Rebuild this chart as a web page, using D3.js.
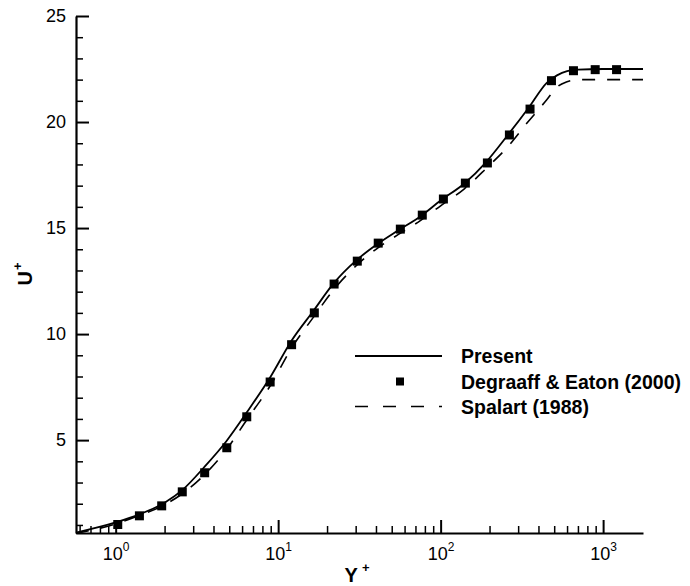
<!DOCTYPE html>
<html>
<head>
<meta charset="utf-8">
<script src="https://cdn.jsdelivr.net/npm/d3@7"></script>
<style>
  body { margin: 0; background: #fff; }
  svg { font-family: "Liberation Sans", Arial, Helvetica, sans-serif; }
</style>
</head>
<body>
<div id="chart"></div>
<script>
// ---- data ----
const presentX  = [0.57, 1.0, 1.4, 2.0, 2.6, 3.5, 4.8, 6.4, 9.0, 12, 16.5, 22, 30, 40, 55, 75, 100, 140, 190, 260, 350, 450, 520, 600, 700, 1000, 1760];
const presentY  = [0.64, 1.12, 1.5, 2.05, 2.68, 3.72, 4.95, 6.3, 8.0, 9.65, 11.1, 12.4, 13.45, 14.2, 14.9, 15.55, 16.3, 17.1, 18.1, 19.4, 20.7, 21.85, 22.2, 22.4, 22.47, 22.5, 22.5];

const degraaffX = [1.03, 1.40, 1.92, 2.57, 3.53, 4.83, 6.41, 8.93, 12.1, 16.7, 22.1, 30.7, 41.3, 56.5, 77.1, 104, 142, 194, 265, 355, 481, 657, 894, 1210];
const degraaffY = [1.02, 1.43, 1.90, 2.56, 3.46, 4.64, 6.10, 7.74, 9.50, 11.0, 12.36, 13.44, 14.29, 14.95, 15.61, 16.37, 17.12, 18.07, 19.39, 20.61, 21.95, 22.42, 22.47, 22.47];

const spalartX  = [0.57, 1.0, 1.4, 2.0, 2.6, 3.5, 4.8, 6.4, 9.0, 12, 16.5, 22, 30, 40, 55, 75, 100, 140, 190, 260, 340, 450, 520, 600, 700, 1000, 1760];
const spalartY  = [0.6, 1.05, 1.45, 1.95, 2.5, 3.35, 4.55, 5.95, 7.6, 9.3, 10.8, 12.1, 13.2, 14.0, 14.7, 15.35, 16.05, 16.85, 17.8, 18.85, 19.95, 21.05, 21.65, 21.9, 22.0, 22.0, 22.0];

const xMajor = [1, 10, 100, 1000];
const xMinor = [0.6, 0.7, 0.8, 0.9, 2, 3, 4, 5, 6, 7, 8, 9, 20, 30, 40, 50, 60, 70, 80, 90, 200, 300, 400, 500, 600, 700, 800, 900];
const xExp   = ["0", "1", "2", "3"];
const yMajor = [5, 10, 15, 20, 25];
const yMinor = d3.range(1, 25).filter(v => v % 5 !== 0);

const legendItems = ["Present", "Degraaff & Eaton (2000)", "Spalart (1988)"];

// ---- layout ----
const width = 690, height = 586;
const svg = d3.select("#chart").append("svg").attr("width", width).attr("height", height);

const x = d3.scaleLog().domain([0.57, 1760]).range([76, 643]);
const y = d3.scaleLinear().domain([0.62, 25]).range([533, 16]);

const zip = (xs, ys) => xs.map((v, i) => ({ x: v, y: ys[i] }));
const line = d3.line().x(d => x(d.x)).y(d => y(d.y)).curve(d3.curveMonotoneX);

const plot = svg.append("g");
plot.append("path").datum(zip(spalartX, spalartY))
  .attr("fill", "none").attr("stroke", "#000").attr("stroke-width", 1.6)
  .attr("stroke-dasharray", "13,12").attr("d", line);
plot.append("path").datum(zip(presentX, presentY))
  .attr("fill", "none").attr("stroke", "#000").attr("stroke-width", 1.8).attr("d", line);
plot.selectAll("rect.pt").data(zip(degraaffX, degraaffY)).enter().append("rect")
  .attr("class", "pt")
  .attr("x", d => x(d.x) - 4.5).attr("y", d => y(d.y) - 4.5)
  .attr("width", 9).attr("height", 9).attr("fill", "#000");

// ---- axes ----
const xMinorAxis = svg.append("g").attr("transform", "translate(0,533)")
  .call(d3.axisBottom(x).tickValues(xMinor).tickSize(-7).tickFormat(""));
xMinorAxis.select(".domain").remove();
xMinorAxis.selectAll("line").attr("stroke-width", 1.5);

const xAxis = svg.append("g").attr("transform", "translate(0,533)")
  .call(d3.axisBottom(x).tickValues(xMajor).tickSizeInner(-13).tickSizeOuter(0).tickPadding(14).tickFormat(""));
xAxis.select(".domain").attr("stroke-width", 2.2);
xAxis.selectAll("line").attr("stroke-width", 2);
xAxis.selectAll("text")
  .attr("font-size", 18).attr("fill", "#000")
  .each(function (d, i) {
    const t = d3.select(this);
    t.append("tspan").text("10");
    t.append("tspan").attr("font-size", 12).attr("dy", "-0.75em").text(xExp[i]);
  });

const yMinorAxis = svg.append("g").attr("transform", "translate(76,0)")
  .call(d3.axisLeft(y).tickValues(yMinor).tickSize(-7).tickFormat(""));
yMinorAxis.select(".domain").remove();
yMinorAxis.selectAll("line").attr("stroke-width", 1.5);

const yAxis = svg.append("g").attr("transform", "translate(76,0)")
  .call(d3.axisLeft(y).tickValues(yMajor).tickSizeInner(-13).tickSizeOuter(0).tickPadding(10));
yAxis.select(".domain").attr("stroke-width", 2.2);
yAxis.selectAll("line").attr("stroke-width", 2);
yAxis.selectAll("text").attr("font-size", 18).attr("fill", "#000");

// axis titles
const xt = svg.append("text").attr("x", 357).attr("y", 582)
  .attr("text-anchor", "middle").attr("font-size", 20).attr("font-weight", "bold");
xt.append("tspan").text("Y");
xt.append("tspan").attr("font-size", 13).attr("dx", 4).attr("dy", "-0.75em").text("+");

const yt = svg.append("text").attr("transform", "translate(32,274) rotate(-90)")
  .attr("text-anchor", "middle").attr("font-size", 20).attr("font-weight", "bold");
yt.append("tspan").text("U");
yt.append("tspan").attr("font-size", 13).attr("dx", 1).attr("dy", "-0.75em").text("+");

// ---- legend ----
const legend = svg.append("g");
const rowY = [356, 381.5, 406.5];
legend.append("line").attr("x1", 355).attr("x2", 442).attr("y1", rowY[0]).attr("y2", rowY[0])
  .attr("stroke", "#000").attr("stroke-width", 1.8);
legend.append("rect").attr("x", 396).attr("y", rowY[1] - 4).attr("width", 8).attr("height", 8).attr("fill", "#000");
legend.append("line").attr("x1", 355).attr("x2", 442).attr("y1", rowY[2]).attr("y2", rowY[2])
  .attr("stroke", "#000").attr("stroke-width", 1.6).attr("stroke-dasharray", "13,15");
legend.selectAll("text.leg").data(legendItems).enter().append("text")
  .attr("class", "leg")
  .attr("x", 461).attr("y", (d, i) => rowY[i] + 7)
  .attr("font-size", 19.5).attr("font-weight", "bold").text(d => d);
</script>
</body>
</html>
